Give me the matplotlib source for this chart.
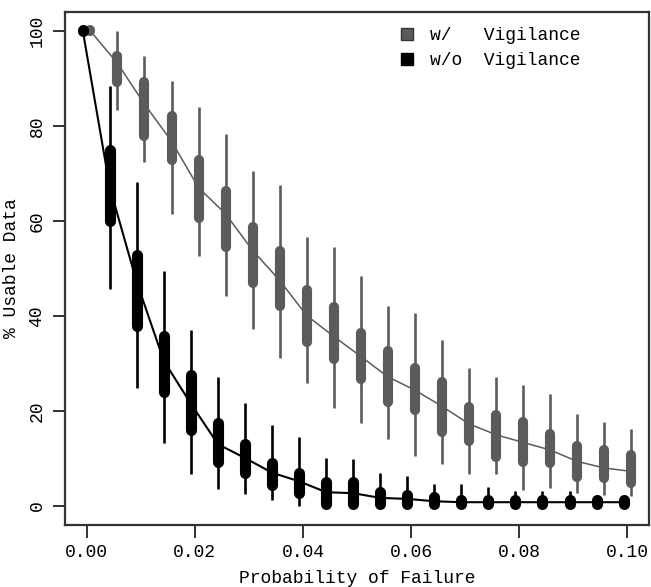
import numpy as np
import matplotlib
matplotlib.use("Agg")
import matplotlib.pyplot as plt
from matplotlib.lines import Line2D

# Probability of failure for each simulated setting
p_fail = [0.000, 0.005, 0.010, 0.015, 0.020, 0.025, 0.030, 0.035, 0.040, 0.045, 0.050,
          0.055, 0.060, 0.065, 0.070, 0.075, 0.080, 0.085, 0.090, 0.095, 0.100]

# % usable data, with vigilance: whisker low, Q1, centre, Q3, whisker high
w_lo  = [100, 83.3, 72.4, 61.5, 52.7, 44.2, 37.2, 31.2, 26.0, 20.6, 17.4,
         14.1, 10.6, 8.9, 6.8, 6.8, 3.3, 3.8, 2.8, 2.4, 2.1]
w_q1  = [100, 89.2, 78.0, 72.8, 60.7, 54.6, 47.0, 42.2, 34.6, 31.0, 26.8,
         21.9, 20.2, 15.6, 13.7, 10.4, 9.3, 9.0, 6.2, 5.9, 4.8]
w_mid = [100, 93.2, 84.6, 76.8, 67.0, 61.5, 53.8, 47.5, 40.1, 35.7, 31.5,
         27.2, 24.4, 21.0, 17.3, 15.0, 13.4, 11.8, 9.4, 8.0, 7.3]
w_q3  = [100, 94.7, 89.2, 82.1, 72.8, 66.3, 58.7, 53.7, 45.4, 41.9, 36.4,
         32.7, 29.0, 26.2, 20.8, 19.2, 17.7, 15.2, 12.6, 11.7, 10.7]
w_hi  = [100, 100, 94.8, 89.4, 84.0, 78.3, 70.5, 67.5, 56.6, 54.6, 48.5,
         42.1, 40.7, 35.0, 29.1, 27.2, 25.5, 23.5, 19.4, 17.7, 16.2]

# % usable data, without vigilance
wo_lo  = [100, 45.7, 24.9, 13.2, 6.8, 3.6, 2.6, 1.2, 0.1, 0, 0,
          0, 0, 0, 0, 0, 0, 0, 0, 0, 0]
wo_q1  = [100, 59.9, 38.0, 23.9, 16.0, 9.2, 7.0, 4.5, 2.8, 0.5, 0.5,
          0.5, 0.5, 0.5, 0.4, 0.4, 0.4, 0.4, 0.4, 0.4, 0.4]
wo_mid = [100, 67.0, 47.0, 30.5, 21.5, 13.0, 10.1, 7.0, 5.2, 2.9, 2.7,
          1.7, 1.5, 1.0, 0.8, 0.8, 0.8, 0.8, 0.8, 0.8, 0.8]
wo_q3  = [100, 75.0, 52.9, 35.7, 27.6, 17.5, 13.1, 9.0, 7.0, 5.0, 5.0,
          2.9, 2.4, 2.0, 1.3, 1.3, 1.3, 1.3, 1.3, 1.3, 1.3]
wo_hi  = [100, 88.4, 68.2, 49.4, 37.1, 27.2, 21.6, 17.1, 14.5, 10.1, 9.9,
          7.0, 6.4, 4.7, 4.7, 4.0, 3.1, 3.1, 3.1, 2.4, 2.4]

series_labels = ["w/   Vigilance", "w/o  Vigilance"]
x_ticks = [0.00, 0.02, 0.04, 0.06, 0.08, 0.10]
x_tick_labels = ["0.00", "0.02", "0.04", "0.06", "0.08", "0.10"]
y_ticks = [0, 20, 40, 60, 80, 100]
y_tick_labels = ["0", "20", "40", "60", "80", "100"]

GRAY = "#5b5b5b"
BLACK = "#000000"
FONT = "Liberation Mono"
FS = 13

fig = plt.figure(figsize=(6.51, 5.87), dpi=100)
ax = fig.add_axes([65 / 651, 1 - 525 / 587, 584 / 651, 513 / 587])

x = np.array(p_fail)
dodge = 0.0007


def draw_series(xpos, lo, q1, mid, q3, hi, color, box_lw, line_lw):
    lo, q1, mid, q3, hi = map(np.asarray, (lo, q1, mid, q3, hi))
    ax.plot(xpos, mid, color=color, lw=line_lw, zorder=2)
    ax.vlines(xpos, lo, hi, color=color, lw=1.9, zorder=3)
    # a degenerate box (all values equal) still shows as a rounded blob
    top = np.maximum(q3, q1 + 0.3)
    ax.vlines(xpos, top - (top - q1), top, color=color, lw=box_lw, zorder=4,
              capstyle="round")


draw_series(x + dodge, w_lo, w_q1, w_mid, w_q3, w_hi, GRAY, 7.3, 1.1)
draw_series(x - dodge, wo_lo, wo_q1, wo_mid, wo_q3, wo_hi, BLACK, 8.0, 1.5)

ax.set_xlim(-0.004, 0.104)
ax.set_ylim(-4, 104)
ax.set_xticks(x_ticks)
ax.set_xticklabels(x_tick_labels, family=FONT, fontsize=FS)
ax.set_yticks(y_ticks)
ax.set_yticklabels(y_tick_labels, family=FONT, fontsize=FS, rotation=90,
                   va="center")
ax.tick_params(direction="out", length=9, width=1.4, color="#333333", pad=5)
for s in ax.spines.values():
    s.set_color("#333333")
    s.set_linewidth(1.6)

ax.set_xlabel("Probability of Failure", family=FONT, fontsize=FS, labelpad=6)
ax.set_ylabel("% Usable Data", family=FONT, fontsize=FS, labelpad=6)

handles = [
    Line2D([], [], ls="none", marker="s", markersize=8.5,
           markerfacecolor=GRAY, markeredgecolor="#333333", markeredgewidth=1),
    Line2D([], [], ls="none", marker="s", markersize=8.5,
           markerfacecolor=BLACK, markeredgecolor=BLACK, markeredgewidth=1),
]
ax.legend(handles, series_labels, loc="upper left",
          bbox_to_anchor=((398 - 65) / 584, 1 - (27 - 12) / 513),
          frameon=False, handlelength=1.0, handletextpad=0.8,
          borderaxespad=0, borderpad=0, labelspacing=0.45,
          prop={"family": FONT, "size": FS})

fig.savefig("out.png", dpi=100)
